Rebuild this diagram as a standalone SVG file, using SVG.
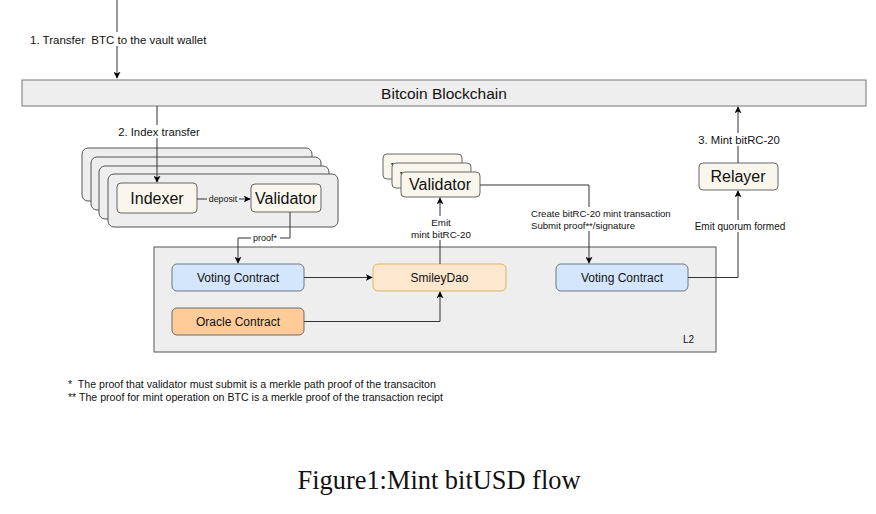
<svg xmlns="http://www.w3.org/2000/svg" width="876" height="514" viewBox="0 0 876 514">
<defs>
<marker id="ah" viewBox="0 0 10 10" refX="9" refY="5" markerWidth="7" markerHeight="7" orient="auto" markerUnits="userSpaceOnUse"><path d="M0,0 L10,5 L0,10 L2.5,5 Z" fill="#000"/></marker>
</defs>
<style>
text{font-family:"Liberation Sans",Arial,sans-serif;fill:#111;white-space:pre}
.edge{fill:none;stroke:#333;stroke-width:1}
.lbl{text-anchor:middle}
.card{fill:#eeeeee;stroke:#555;stroke-width:1}
.cream{fill:#f9f7ed;stroke:#666;stroke-width:1}
.big{font-size:16px;text-anchor:middle}
.mid{font-size:12px;text-anchor:middle}
</style>
<rect width="876" height="514" fill="#fff"/>
<g id="bitcoin-blockchain">
<rect x="22" y="80" width="844" height="26" fill="#eeeeee" stroke="#777" stroke-width="1"/>
<text x="444" y="98.5" font-size="15.5" text-anchor="middle">Bitcoin Blockchain</text>
</g>
<g id="l2">
<rect x="154" y="247" width="562" height="105" fill="#eeeeee" stroke="#555" stroke-width="1"/>
<text x="683" y="343" font-size="10">L2</text>
</g>
<g id="indexer-stack">
<rect class="card" x="82" y="148" width="230" height="53" rx="6"/>
<rect class="card" x="91" y="157" width="230" height="53" rx="6"/>
<rect class="card" x="99" y="166" width="230" height="53" rx="6"/>
<rect class="card" x="108" y="174" width="230" height="53" rx="6"/>
</g>
<g id="indexer">
<rect class="cream" x="117" y="183" width="80" height="30" rx="4"/>
<text class="big" x="157" y="204">Indexer</text>
</g>
<g id="validator-left">
<rect class="cream" x="251" y="184" width="70" height="28" rx="4"/>
<text class="big" x="286" y="204">Validator</text>
</g>
<g id="validator-right">
<rect class="cream" x="383" y="154" width="79" height="25" rx="4"/>
<text class="big" x="422" y="175">Validator</text>
<rect class="cream" x="392" y="163" width="79" height="25" rx="4"/>
<text class="big" x="431" y="184">Validator</text>
<rect class="cream" x="401" y="172" width="79" height="25" rx="4"/>
<text class="big" x="440" y="190">Validator</text>
</g>
<g id="relayer">
<rect class="cream" x="699" y="163" width="79" height="27" rx="4"/>
<text class="big" x="738" y="182">Relayer</text>
</g>
<g id="voting-contract-left">
<rect x="172" y="264" width="132" height="27" rx="5" fill="#d4e6fb" stroke="#6b7785" stroke-width="1"/>
<text class="mid" x="238" y="282">Voting Contract</text>
</g>
<g id="smileydao">
<rect x="373" y="264" width="133" height="27" rx="5" fill="#fde7cf" stroke="#d9b55a" stroke-width="1"/>
<text class="mid" x="439.5" y="282">SmileyDao</text>
</g>
<g id="oracle-contract">
<rect x="172" y="308" width="132" height="27" rx="5" fill="#ffcc99" stroke="#6b6b6b" stroke-width="1"/>
<text class="mid" x="238" y="326">Oracle Contract</text>
</g>
<g id="voting-contract-right">
<rect x="556" y="264" width="132" height="27" rx="5" fill="#d4e6fb" stroke="#6b7785" stroke-width="1"/>
<text class="mid" x="622" y="282">Voting Contract</text>
</g>
<g id="connectors">
<path class="edge" d="M117,0 V78" marker-end="url(#ah)"/>
<rect x="29" y="32" width="180" height="14" fill="#fff"/>
<text x="30" y="43.5" font-size="11.5">1. Transfer  BTC to the vault wallet</text>
<path class="edge" d="M157,106 V182" marker-end="url(#ah)"/>
<rect x="116" y="125" width="86" height="13" fill="#fff"/>
<text class="lbl" x="159" y="135.5" font-size="11.3">2. Index transfer</text>
<path class="edge" d="M197,199 H250" marker-end="url(#ah)"/>
<rect x="207" y="194" width="32" height="10" fill="#eeeeee"/>
<text x="223" y="202" font-size="8.8" text-anchor="middle">deposit</text>
<path class="edge" d="M290,212 V238 H238 V263" marker-end="url(#ah)"/>
<rect x="251" y="233" width="29" height="10" fill="#fff"/>
<text x="265" y="241" font-size="9" text-anchor="middle">proof*</text>
<path class="edge" d="M304,277.5 H372" marker-end="url(#ah)"/>
<path class="edge" d="M304,321.5 H440 V292" marker-end="url(#ah)"/>
<path class="edge" d="M440,264 V198" marker-end="url(#ah)"/>
<rect x="406" y="216" width="70" height="24" fill="#fff"/>
<text class="lbl" x="441" y="226" font-size="9.8">Emit</text>
<text class="lbl" x="441" y="238" font-size="9.8">mint bitRC-20</text>
<path class="edge" d="M480,185 H589 V263" marker-end="url(#ah)"/>
<rect x="529" y="207" width="144" height="24" fill="#fff"/>
<text x="531" y="217" font-size="9.6">Create bitRC-20 mint transaction</text>
<text x="531" y="229" font-size="9.6">Submit proof**/signature</text>
<path class="edge" d="M688,277.5 H738 V191" marker-end="url(#ah)"/>
<rect x="694" y="220" width="92" height="12" fill="#fff"/>
<text class="lbl" x="740" y="229.5" font-size="10">Emit quorum formed</text>
<path class="edge" d="M738,163 V107" marker-end="url(#ah)"/>
<rect x="695" y="133" width="88" height="13" fill="#fff"/>
<text class="lbl" x="739" y="143.5" font-size="11.3">3. Mint bitRC-20</text>
</g>
<g id="notes">
<text x="68" y="388" font-size="10.6">*  The proof that validator must submit is a merkle path proof of the transaciton</text>
<text x="68" y="401" font-size="10.6">** The proof for mint operation on BTC is a merkle proof of the transaction recipt</text>
</g>
<text x="439" y="489" font-size="26.4" text-anchor="middle" style="font-family:'Liberation Serif','Times New Roman',serif">Figure1:Mint bitUSD flow</text>
</svg>
